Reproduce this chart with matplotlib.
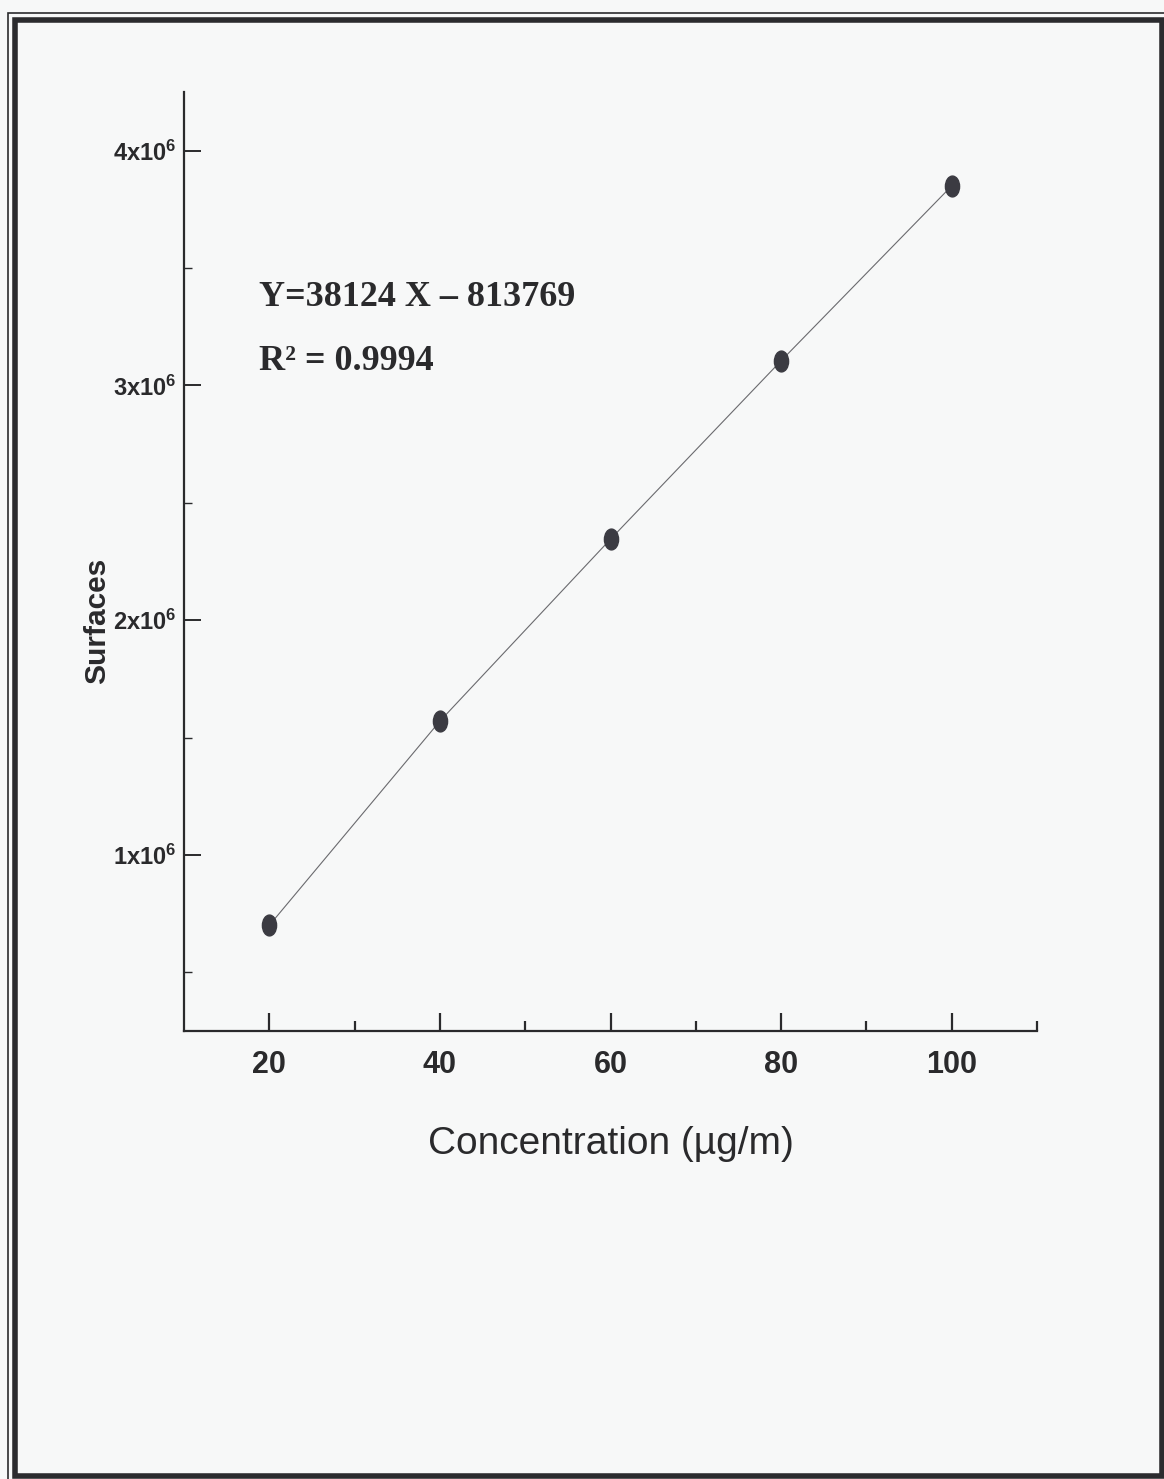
import numpy as np
import matplotlib
matplotlib.use("Agg")
import matplotlib.pyplot as plt
from matplotlib.path import Path
from matplotlib.patches import Rectangle
from matplotlib.ticker import FixedLocator, FuncFormatter

# Calibration data: concentration vs. peak surface
concentration = [20, 40, 60, 80, 100]
surface = [0.70e6, 1.57e6, 2.345e6, 3.105e6, 3.85e6]

x_major = [20, 40, 60, 80, 100]
x_minor = [30, 50, 70, 90, 110]
y_major = [1e6, 2e6, 3e6, 4e6]
y_minor = [0.5e6, 1.5e6, 2.5e6, 3.5e6]

equation_text = "Y=38124 X \u2013 813769"
r2_text = "R\u00b2 = 0.9994"

plt.rcParams["mathtext.fontset"] = "custom"
plt.rcParams["mathtext.bf"] = "Liberation Sans:bold"
plt.rcParams["mathtext.rm"] = "Liberation Sans:bold"

W, H = 1164, 1479
fig = plt.figure(figsize=(W / 100, H / 100), dpi=100)
bg = "#f7f8f8"
fig.patch.set_facecolor(bg)

# double page frame (pixel coordinates, origin bottom-left)
def frame(x0, y0, x1, y1, lw, color="#2b2b2e"):
    fig.patches.append(Rectangle((x0 / W, 1 - y1 / H), (x1 - x0) / W, (y1 - y0) / H,
                                 transform=fig.transFigure, fill=False,
                                 lw=lw, edgecolor=color, zorder=0))

frame(8, 13, 1170, 1490, 1.2)
frame(15, 20, 1162, 1476, 4.0)

ax = fig.add_axes([184 / W, 1 - 1031 / H, 853 / W, 939 / H])
ax.set_facecolor("none")
ax.set_xlim(10, 110)
ax.set_ylim(0.25e6, 4.25e6)

for s in ["top", "right"]:
    ax.spines[s].set_visible(False)
for s in ["left", "bottom"]:
    ax.spines[s].set_linewidth(1.6)
    ax.spines[s].set_color("#2a2a2c")

ax.xaxis.set_major_locator(FixedLocator(x_major))
ax.xaxis.set_minor_locator(FixedLocator(x_minor))
ax.yaxis.set_major_locator(FixedLocator(y_major))
ax.yaxis.set_minor_locator(FixedLocator(y_minor))

def sci(v, pos):
    return r"$\mathbf{%dx10^{6}}$" % round(v / 1e6)

ax.yaxis.set_major_formatter(FuncFormatter(sci))

ax.tick_params(axis="x", which="major", direction="in", length=13, width=1.6,
               pad=14, colors="#2a2a2c", labelsize=22)
ax.tick_params(axis="x", which="minor", direction="in", length=7, width=1.6,
               colors="#2a2a2c")
ax.tick_params(axis="y", which="major", direction="in", length=12, width=1.4,
               pad=5.5, colors="#2a2a2c", labelsize=17)
ax.tick_params(axis="y", which="minor", direction="in", length=6, width=1.0,
               colors="#2a2a2c")
for lab in ax.get_xticklabels():
    lab.set_fontfamily("Liberation Sans")
    lab.set_fontweight("bold")

# elliptical markers, taller than wide
circ = Path.unit_circle()
ellipse = Path(circ.vertices * np.array([0.68, 1.0]), circ.codes)

ax.plot(concentration, surface, color="#6a6a6e", lw=0.8, zorder=2)
ax.plot(concentration, surface, linestyle="none", marker=ellipse, markersize=15,
        markerfacecolor="#3b3b42", markeredgecolor="#3b3b42", zorder=3)

ax.set_xlabel("Concentration (\u00b5g/m)", fontfamily="Liberation Sans",
              fontsize=28, color="#2a2a2c", labelpad=33)
ax.set_ylabel("Surfaces", fontfamily="Liberation Sans", fontweight="bold",
              fontsize=21.5, color="#2a2a2c")
ax.yaxis.set_label_coords((111 - 184) / 853, (1031 - 621) / 939)

fig.text(259 / W, 1 - 298 / H, equation_text, fontfamily="Liberation Serif",
         fontweight="bold", fontsize=26, color="#2a2a2c", va="center", ha="left")
fig.text(259 / W, 1 - 362 / H, r2_text, fontfamily="Liberation Serif",
         fontweight="bold", fontsize=26, color="#2a2a2c", va="center", ha="left")

fig.savefig("out.png", dpi=100, facecolor=bg)
